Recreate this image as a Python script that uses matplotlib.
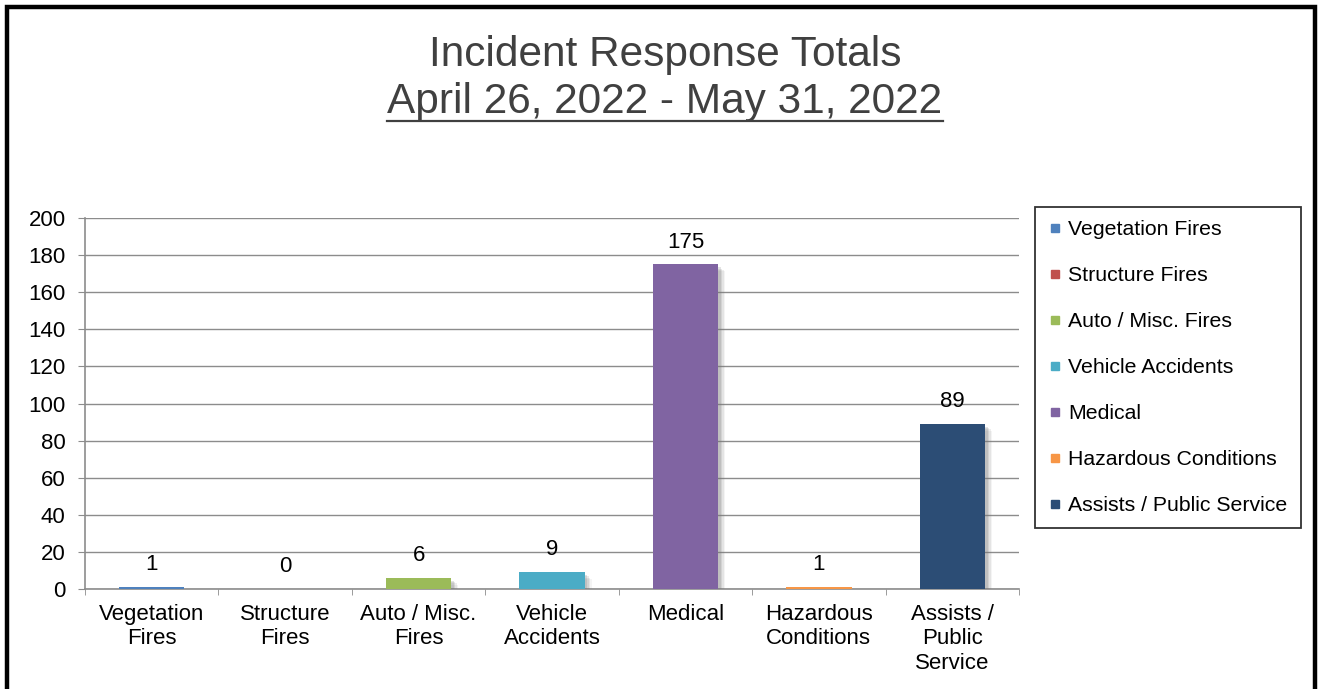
import matplotlib
matplotlib.use("Agg")
import matplotlib.pyplot as plt
from matplotlib.patches import Rectangle
from matplotlib.lines import Line2D
import matplotlib.patheffects as pe

plt.rcParams['font.family'] = ['Liberation Sans', 'DejaVu Sans']

categories = ["Vegetation Fires", "Structure Fires", "Auto / Misc. Fires",
              "Vehicle Accidents", "Medical", "Hazardous Conditions",
              "Assists / Public Service"]
tick_labels = ["Vegetation\nFires", "Structure\nFires", "Auto / Misc.\nFires",
               "Vehicle\nAccidents", "Medical", "Hazardous\nConditions",
               "Assists /\nPublic\nService"]
values = [1, 0, 6, 9, 175, 1, 89]
colors = ["#4F81BD", "#C0504D", "#9BBB59", "#4BACC6", "#8064A2", "#F79646", "#2C4D75"]

W, H = 1321, 689
fig = plt.figure(figsize=(W / 100, H / 100), dpi=100)
ax = fig.add_axes([85 / W, 1 - 589 / H, (1019 - 85) / W, (589 - 218) / H])

grid_c = "#8C8C8C"
x = list(range(len(values)))
bars = ax.bar(x, values, width=0.49, color=colors, zorder=3)
# soft drop shadow, built from a few faint offset copies
shadow = [pe.SimplePatchShadow(offset=(d, -d), shadow_rgbFace="#777777", alpha=a)
          for d, a in [(5, 0.08), (4, 0.12), (3, 0.16), (2, 0.2)]]
for b in bars:
    b.set_path_effects(shadow + [pe.Normal()])

for xi, v in zip(x, values):
    ax.annotate(str(v), (xi, v), xytext=(0, 8.5), textcoords="offset points",
                ha="center", va="bottom", fontsize=16, color="black")

ax.set_xlim(-0.5, len(values) - 0.5)
ax.set_ylim(0, 200)
ax.set_yticks(range(0, 201, 20))
ax.yaxis.grid(True, color=grid_c, linewidth=1.0, zorder=0)
ax.set_axisbelow(True)

ax.set_xticks(x)
ax.set_xticklabels(tick_labels, fontsize=16, linespacing=1.2)
ax.set_xticks([i - 0.5 for i in range(len(values) + 1)], minor=True)
ax.tick_params(axis="x", which="major", length=0, pad=11)
ax.tick_params(axis="x", which="minor", length=4.5, color=grid_c, direction="out")
ax.tick_params(axis="y", length=5, color=grid_c, labelsize=16, pad=9)

for s in ["top", "right"]:
    ax.spines[s].set_visible(False)
for s in ["left", "bottom"]:
    ax.spines[s].set_color(grid_c)
    ax.spines[s].set_linewidth(1.2)

handles = [Line2D([], [], marker="s", linestyle="none", markersize=5.5,
                  markerfacecolor=c, markeredgecolor=c) for c in colors]
leg = fig.legend(handles, categories, loc="upper left",
                 bbox_to_anchor=(1035 / W, 1 - 207 / H), borderaxespad=0,
                 fontsize=15.3, frameon=True, fancybox=False, edgecolor="black",
                 labelspacing=1.27, handlelength=0.6, handletextpad=0.35,
                 borderpad=0.62)
leg.get_frame().set_linewidth(1.3)

title_c = "#404040"
fig.text(665 / W, 1 - 55 / H, "Incident Response Totals", ha="center", va="center",
         fontsize=30.5, color=title_c)
t2 = fig.text(665 / W, 1 - 102 / H, "April 26, 2022 - May 31, 2022", ha="center",
              va="center", fontsize=30.5, color=title_c)

# underline under the second title line
fig.canvas.draw()
bb = t2.get_window_extent().transformed(fig.transFigure.inverted())
fig.add_artist(Line2D([bb.x0, bb.x1], [1 - 121 / H] * 2, transform=fig.transFigure,
                      color=title_c, linewidth=1.6))

# outer frame
fig.add_artist(Rectangle((7 / W, -0.05), (1315 - 7) / W, 1.05 - 7 / H,
                         transform=fig.transFigure, fill=False,
                         edgecolor="black", linewidth=3.2))

fig.savefig("out.png", dpi=100)
